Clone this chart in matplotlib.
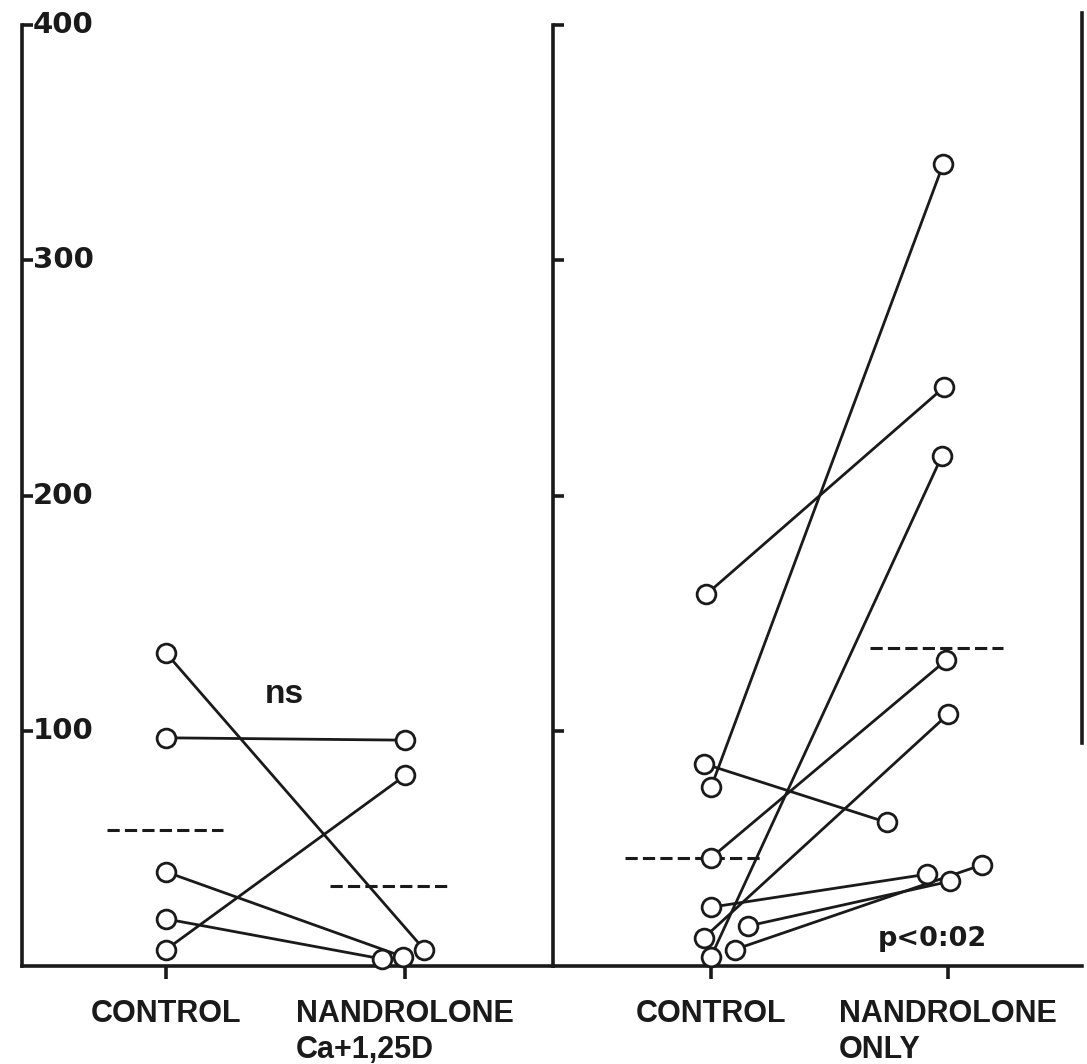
import matplotlib
matplotlib.use("Agg")
import matplotlib.pyplot as plt
import matplotlib.transforms as mtransforms

# Paired measurements: each control value is joined to its treated value
left_control = [133, 97, 40, 20, 7]
left_nandrolone = [7, 96, 4, 3, 81]
right_control = [158, 76, 86, 46, 4, 12, 25, 17, 7]
right_nandrolone = [246, 341, 61, 130, 217, 107, 39, 36, 43]

# Group means (dashed bars)
left_means = [58, 34]
right_means = [46, 135]

# Small horizontal shifts so overlapping circles stay visible
left_control_shift = [0, 0, 0, 0, 0]
left_nandrolone_shift = [0.08, 0, -0.01, -0.096, 0]
right_control_shift = [-0.02, 0, -0.03, 0, 0, -0.03, 0, 0.156, 0.10]
right_nandrolone_shift = [-0.017, -0.02, -0.257, -0.008, -0.025, 0, -0.09, 0.008, 0.143]

left_labels = ["CONTROL", "NANDROLONE\nCa+1,25D"]
right_labels = ["CONTROL", "NANDROLONE\nONLY"]
y_ticks = [100, 200, 300, 400]

W, H = 1087, 1064
fig = plt.figure(figsize=(W / 100, H / 100), dpi=100)
bottom_px, top_px = 966, 25
ax1 = fig.add_axes([22 / W, (H - bottom_px) / H, (553 - 22) / W, (bottom_px - top_px) / H])
ax2 = fig.add_axes([553 / W, (H - bottom_px) / H, (1082 - 553) / W, (bottom_px - top_px) / H])

INK = "#1a1a1a"
LW = 2.0
SPINE_W = 2.6
label_font = dict(family="Liberation Sans", weight="bold", size=22)
num_font = dict(family="DejaVu Sans", weight="bold", size=21)


def draw_pairs(ax, ctrl, treat, cshift, tshift):
    for c, t, dc, dt in zip(ctrl, treat, cshift, tshift):
        ax.plot([0 + dc, 1 + dt], [c, t], color=INK, lw=LW,
                solid_capstyle="butt", zorder=2, clip_on=False)
    for vals, shifts, x0 in ((ctrl, cshift, 0), (treat, tshift, 1)):
        ax.plot([x0 + s for s in shifts], vals, linestyle="none", marker="o",
                markersize=13.5, markerfacecolor="white", markeredgecolor=INK,
                markeredgewidth=LW, zorder=3, clip_on=False)


def draw_mean(ax, x0, x1, y):
    ax.plot([x0, x1], [y, y], color=INK, lw=2.2, linestyle=(0, (4.0, 1.7)),
            zorder=1, clip_on=False)


def style_axes(ax, xlim, labels):
    ax.set_xlim(*xlim)
    ax.set_ylim(0, 400)
    ax.spines["top"].set_visible(False)
    for s in ax.spines.values():
        s.set_linewidth(SPINE_W)
        s.set_color(INK)
    ax.set_yticks(y_ticks)
    ax.set_yticklabels([])
    ax.tick_params(axis="y", direction="in", length=8, width=SPINE_W, color=INK)
    ax.set_xticks([0, 1])
    ax.set_xticklabels(labels, fontdict=label_font, multialignment="left",
                       linespacing=1.28)
    ax.tick_params(axis="x", direction="out", length=9.5, width=SPINE_W,
                   color=INK, pad=14, labelcolor=INK)
    ax.patch.set_alpha(0)


style_axes(ax1, (-0.603, 1.619), left_labels)
style_axes(ax2, (-0.667, 1.565), right_labels)
ax1.spines["right"].set_visible(False)
ax2.spines["right"].set_bounds(95, 405)

draw_pairs(ax1, left_control, left_nandrolone, left_control_shift, left_nandrolone_shift)
draw_pairs(ax2, right_control, right_nandrolone, right_control_shift, right_nandrolone_shift)

draw_mean(ax1, -0.247, 0.238, left_means[0])
draw_mean(ax1, 0.686, 1.188, left_means[1])
draw_mean(ax2, -0.363, 0.207, right_means[0])
draw_mean(ax2, 0.671, 1.232, right_means[1])

# Value labels sit inside the left axis, just right of each tick
label_tr = mtransforms.offset_copy(ax1.get_yaxis_transform(), fig=fig, x=11, y=0, units="dots")
for v in y_ticks:
    ax1.text(0, v, str(v), transform=label_tr, ha="left", va="center",
             color=INK, **num_font)

ax1.text(0.414, 112, "ns", ha="left", va="baseline", color=INK,
         family="Liberation Sans", weight="bold", size=24)
ax2.text(0.705, 8.5, "p<0:02", ha="left", va="baseline", color=INK,
         family="DejaVu Sans", weight="bold", size=19.5)

fig.savefig("out.png", dpi=100, facecolor="white")
